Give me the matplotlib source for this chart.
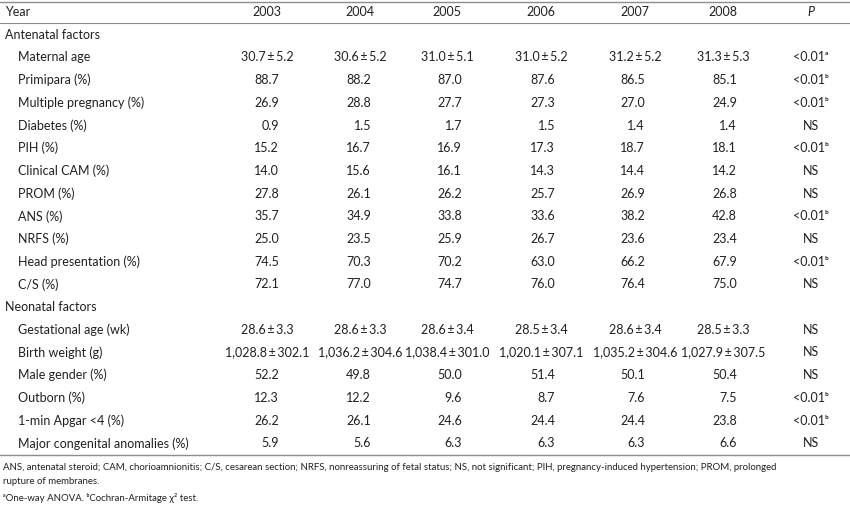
import matplotlib
matplotlib.use("Agg")
import matplotlib.pyplot as plt

# Dados da tabela
years = [2003, 2004, 2005, 2006, 2007, 2008]

maternal_age_mean = [30.7, 30.6, 31.0, 31.0, 31.2, 31.3]
maternal_age_sd = [5.2, 5.2, 5.1, 5.2, 5.2, 5.3]
maternal_age_p = "<0.01ᵃ"

antenatal_labels = ["Primipara (%)", "Multiple pregnancy (%)", "Diabetes (%)", "PIH (%)",
                    "Clinical CAM (%)", "PROM (%)", "ANS (%)", "NRFS (%)",
                    "Head presentation (%)", "C/S (%)"]
antenatal_values = [
    [88.7, 88.2, 87.0, 87.6, 86.5, 85.1],
    [26.9, 28.8, 27.7, 27.3, 27.0, 24.9],
    [0.9, 1.5, 1.7, 1.5, 1.4, 1.4],
    [15.2, 16.7, 16.9, 17.3, 18.7, 18.1],
    [14.0, 15.6, 16.1, 14.3, 14.4, 14.2],
    [27.8, 26.1, 26.2, 25.7, 26.9, 26.8],
    [35.7, 34.9, 33.8, 33.6, 38.2, 42.8],
    [25.0, 23.5, 25.9, 26.7, 23.6, 23.4],
    [74.5, 70.3, 70.2, 63.0, 66.2, 67.9],
    [72.1, 77.0, 74.7, 76.0, 76.4, 75.0],
]
antenatal_p = ["<0.01ᵇ", "<0.01ᵇ", "NS", "<0.01ᵇ", "NS", "NS", "<0.01ᵇ", "NS", "<0.01ᵇ", "NS"]

gest_age_mean = [28.6, 28.6, 28.6, 28.5, 28.6, 28.5]
gest_age_sd = [3.3, 3.3, 3.4, 3.4, 3.4, 3.3]
gest_age_p = "NS"
birth_weight_mean = [1028.8, 1036.2, 1038.4, 1020.1, 1035.2, 1027.9]
birth_weight_sd = [302.1, 304.6, 301.0, 307.1, 304.6, 307.5]
birth_weight_p = "NS"

neonatal_labels = ["Male gender (%)", "Outborn (%)", "1-min Apgar <4 (%)",
                   "Major congenital anomalies (%)"]
neonatal_values = [
    [52.2, 49.8, 50.0, 51.4, 50.1, 50.4],
    [12.3, 12.2, 9.6, 8.7, 7.6, 7.5],
    [26.2, 26.1, 24.6, 24.4, 24.4, 23.8],
    [5.9, 5.6, 6.3, 6.3, 6.3, 6.6],
]
neonatal_p = ["NS", "<0.01ᵇ", "<0.01ᵇ", "NS"]

footnotes = [
    "ANS, antenatal steroid; CAM, chorioamnionitis; C/S, cesarean section; NRFS, nonreassuring of fetal status; "
    "NS, not significant; PIH, pregnancy-induced hypertension; PROM, prolonged",
    "rupture of membranes.",
    "ᵃOne-way ANOVA. ᵇCochran-Armitage χ² test.",
]

# Layout (pixels)
W, H = 850, 505
col_center = [267, 360, 447, 541, 635, 723]
col_right = [279, 371, 462, 555, 645, 737]
p_center = 811
row0 = 12
row_h = 22.7
ink = "#231f20"
fonts = ["Lato", "DejaVu Sans"]
fs = 9

fig = plt.figure(figsize=(W / 100, H / 100), dpi=100)
ax = fig.add_axes([0, 0, 1, 1])
ax.set_xlim(0, W)
ax.set_ylim(H, 0)
ax.axis("off")


def txt(x, y, s, ha="left", size=fs):
    ax.text(x, y, s, ha=ha, va="center", fontsize=size, color=ink, family=fonts)


def pm(m, s, comma=False):
    if comma:
        return f"{m:,.1f}\u2009±\u2009{s:.1f}"
    return f"{m:.1f}\u2009±\u2009{s:.1f}"


row = 0
# cabeçalho
txt(5, row0, "Year")
for c, yv in zip(col_center, years):
    txt(c, row0, str(yv), ha="center")
ax.text(p_center, row0, "P", ha="center", va="center", fontsize=fs, color=ink,
        family=fonts, style="italic")

row = 1
txt(5, row0 + row * row_h, "Antenatal factors")
row += 1
y = row0 + row * row_h
txt(18, y, "Maternal age")
for c, m, s in zip(col_center, maternal_age_mean, maternal_age_sd):
    txt(c, y, pm(m, s), ha="center")
txt(p_center, y, maternal_age_p, ha="center")
row += 1

for lab, vals, p in zip(antenatal_labels, antenatal_values, antenatal_p):
    y = row0 + row * row_h
    txt(18, y, lab)
    for r, v in zip(col_right, vals):
        txt(r, y, f"{v:.1f}", ha="right")
    txt(p_center, y, p, ha="center")
    row += 1

txt(5, row0 + row * row_h, "Neonatal factors")
row += 1
y = row0 + row * row_h
txt(18, y, "Gestational age (wk)")
for c, m, s in zip(col_center, gest_age_mean, gest_age_sd):
    txt(c, y, pm(m, s), ha="center")
txt(p_center, y, gest_age_p, ha="center")
row += 1
y = row0 + row * row_h
txt(18, y, "Birth weight (g)")
for c, m, s in zip(col_center, birth_weight_mean, birth_weight_sd):
    txt(c, y, pm(m, s, comma=True), ha="center")
txt(p_center, y, birth_weight_p, ha="center")
row += 1

for lab, vals, p in zip(neonatal_labels, neonatal_values, neonatal_p):
    y = row0 + row * row_h
    txt(18, y, lab)
    for r, v in zip(col_right, vals):
        txt(r, y, f"{v:.1f}", ha="right")
    txt(p_center, y, p, ha="center")
    row += 1

# linhas horizontais
line_col = "#8c8c8c"
ax.plot([0, W], [1.5, 1.5], color=line_col, lw=1.0)
ax.plot([0, W], [23, 23], color=line_col, lw=0.8)
ax.plot([0, W], [455, 455], color=line_col, lw=1.0)

# notas de rodapé
for yy, s in zip([468, 482, 498], footnotes):
    txt(3, yy, s, size=6.9)

fig.savefig("out.png", dpi=100)
